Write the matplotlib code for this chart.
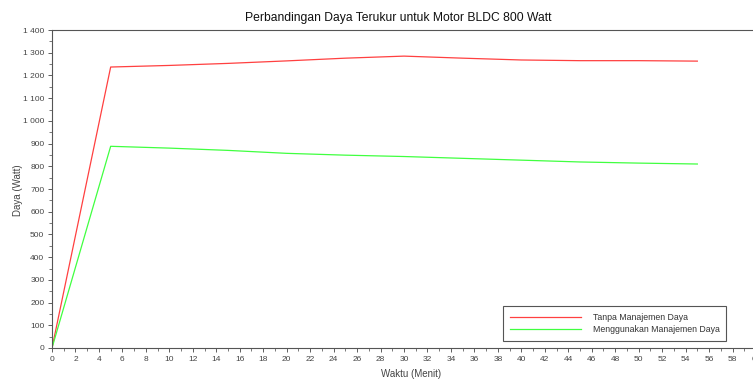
import matplotlib
matplotlib.use("Agg")
import matplotlib.pyplot as plt
from matplotlib.ticker import MultipleLocator, FuncFormatter

plt.rcParams['font.family'] = ['Liberation Sans', 'DejaVu Sans']

waktu = [0, 5, 10, 15, 20, 25, 30, 35, 40, 45, 50, 55]
tanpa = [0, 1237, 1244, 1253, 1264, 1276, 1285, 1276, 1268, 1265, 1265, 1263]
dengan = [0, 888, 880, 870, 857, 849, 843, 835, 827, 819, 814, 810]

label_tanpa = "Tanpa Manajemen Daya"
label_dengan = "Menggunakan Manajemen Daya"
title = "Perbandingan Daya Terukur untuk Motor BLDC 800 Watt"

W, H = 753, 381
fig = plt.figure(figsize=(W / 100, H / 100), dpi=100)
ax = fig.add_axes([52 / W, 33 / H, 704 / W, 318 / H])

ax.plot(waktu, tanpa, color='#ff4040', lw=0.9, label=label_tanpa)
ax.plot(waktu, dengan, color='#40ff40', lw=0.9, label=label_dengan)

ax.set_xlim(0, 60)
ax.set_ylim(0, 1400)
ax.xaxis.set_major_locator(MultipleLocator(2))
ax.xaxis.set_minor_locator(MultipleLocator(1))
ax.yaxis.set_major_locator(MultipleLocator(100))
ax.yaxis.set_minor_locator(MultipleLocator(50))
ax.yaxis.set_major_formatter(FuncFormatter(lambda v, p: f"{int(v):,}".replace(",", " ")))

ax.tick_params(which='major', direction='out', length=3, width=0.6,
               labelsize=6, colors='#444444', pad=2.5)
ax.tick_params(which='minor', direction='out', length=2, width=0.5, colors='#444444')
for s in ax.spines.values():
    s.set_color('#555555')
    s.set_linewidth(0.8)

fig.text(398 / W, 1 - 18 / H, title, ha='center', va='center', fontsize=8.7, color='#111111')
fig.text(18 / W, 1 - 190 / H, "Daya (Watt)", ha='center', va='center', rotation=90,
         fontsize=7, color='#444444')
fig.text(411 / W, 1 - 374 / H, "Waktu (Menit)", ha='center', va='center',
         fontsize=7, color='#444444')

leg = ax.legend(loc='upper left', bbox_to_anchor=(503 / W, 1 - 306 / H),
                bbox_transform=fig.transFigure, fontsize=6.3, fancybox=False,
                edgecolor='#555555', framealpha=1, handlelength=8.2,
                borderpad=0.75, labelspacing=0.4, handletextpad=1.3,
                borderaxespad=0)
leg.get_frame().set_linewidth(0.8)
for t in leg.get_texts():
    t.set_color('#333333')

fig.savefig("out.png", dpi=100)
